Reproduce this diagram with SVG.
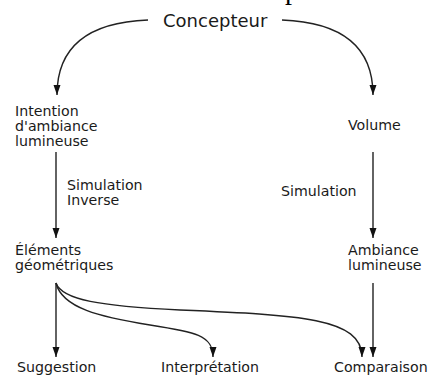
<svg xmlns="http://www.w3.org/2000/svg" width="428" height="376" viewBox="0 0 428 376">
<style>
text{font-family:"DejaVu Sans",Verdana,sans-serif;font-size:14.2px;fill:#1a1a1a}
.big{font-size:18px}
.frag{font-family:"Liberation Serif",serif;font-size:28px;fill:#000}
.c{fill:none;stroke:#222;stroke-width:1.4;marker-end:url(#ah)}
</style>
<defs>
<marker id="ah" markerUnits="userSpaceOnUse" markerWidth="10" markerHeight="8" refX="10" refY="3.5" orient="auto">
<path d="M0,0 L10,3.5 L0,7 z" fill="#111"/>
</marker>
</defs>
<rect width="428" height="376" fill="#fff"/>
<text class="frag" x="285" y="-1">p</text>
<g id="connectors">
<path class="c" d="M148,20 C95,22 57,42 57,95"/>
<path class="c" d="M282,20 C335,22 373,42 373,95"/>
<path class="c" d="M56,152 L56,238"/>
<path class="c" d="M373,152 L373,238"/>
<path class="c" d="M56,283 L56,357"/>
<path class="c" d="M56,283 C62,308 100,317 150,325 C195,332 213,335 213,357"/>
<path class="c" d="M56,283 C62,300 100,306 180,310 C300,315 362,318 362,357"/>
<path class="c" d="M373,283 L373,357"/>
</g>
<g id="concepteur"><text class="big" x="163" y="27">Concepteur</text></g>
<g id="intention"><text x="15" y="116">Intention</text><text x="15" y="131">d'ambiance</text><text x="15" y="146">lumineuse</text></g>
<g id="volume"><text x="348" y="130">Volume</text></g>
<g id="label-sim-inv"><text x="67" y="190">Simulation</text><text x="67" y="205">Inverse</text></g>
<g id="label-sim"><text x="281" y="196">Simulation</text></g>
<g id="elements"><text x="15" y="255">Éléments</text><text x="15" y="270">géométriques</text></g>
<g id="ambiance"><text x="348" y="255">Ambiance</text><text x="348" y="270">lumineuse</text></g>
<g id="suggestion"><text x="17" y="372">Suggestion</text></g>
<g id="interpretation"><text x="161" y="372">Interprétation</text></g>
<g id="comparaison"><text x="334" y="372">Comparaison</text></g>
</svg>
